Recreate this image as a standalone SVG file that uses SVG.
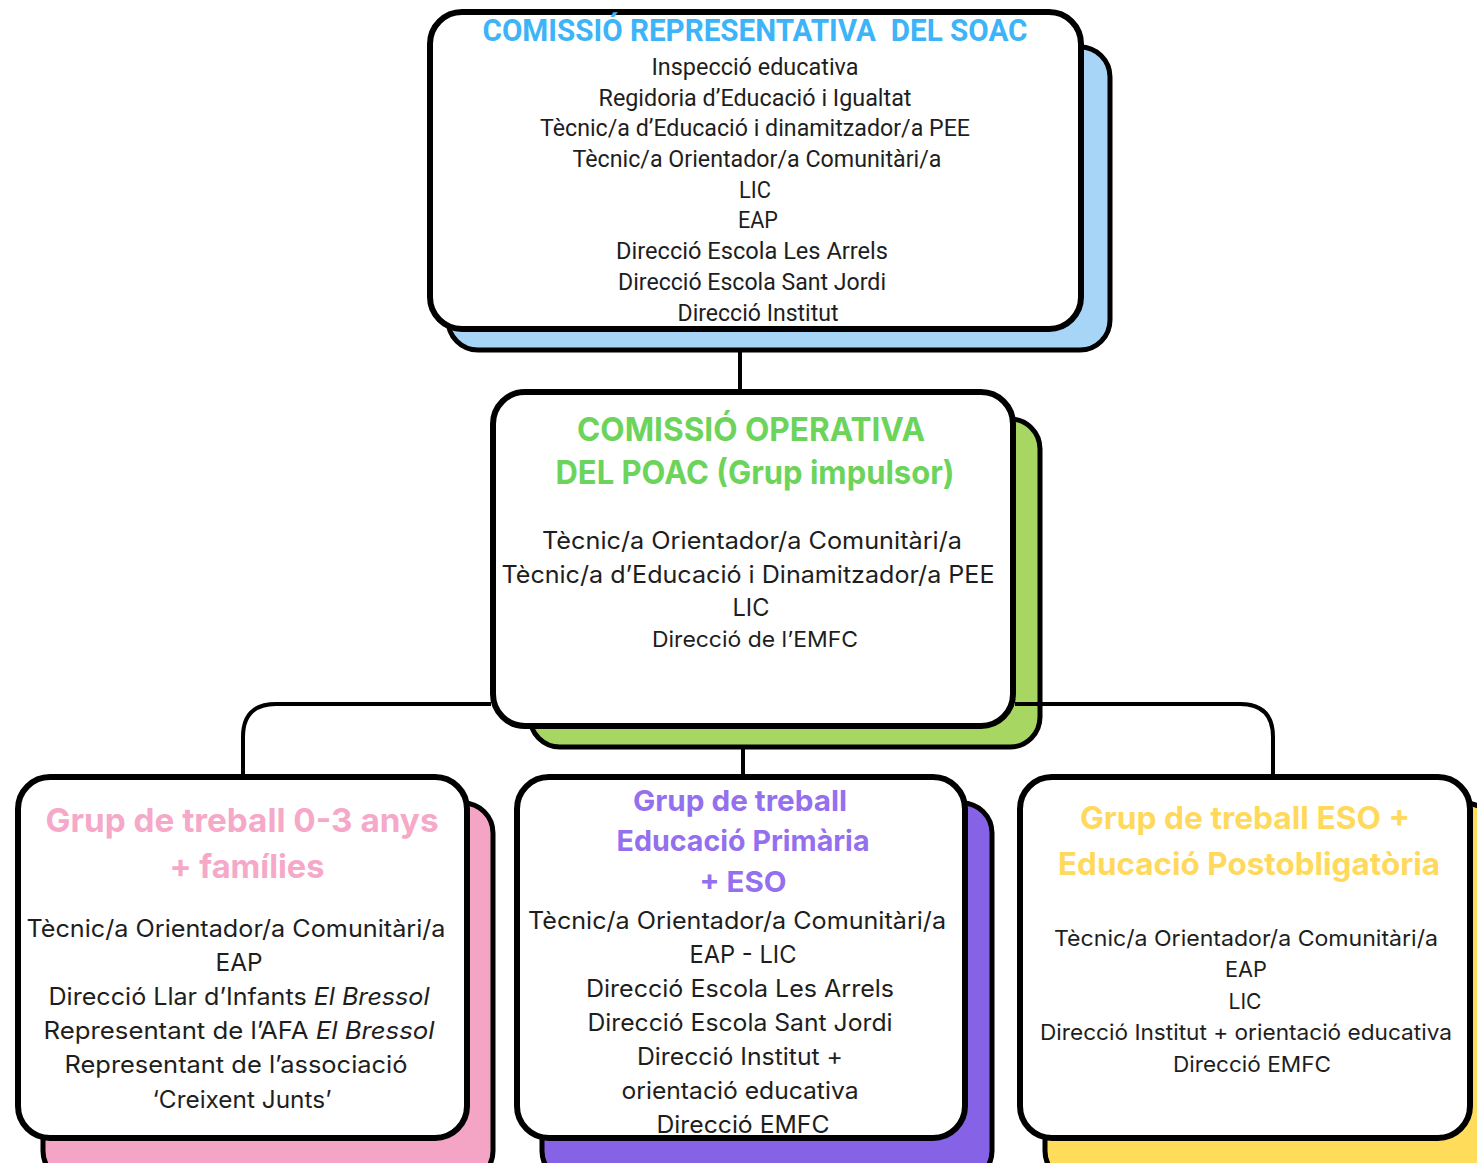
<svg xmlns="http://www.w3.org/2000/svg" width="1477" height="1163" viewBox="0 0 1477 1163">
<style>
.box{fill:#ffffff;stroke:#000;stroke-width:6}
.sh{stroke:#000;stroke-width:5}
.conn{fill:none;stroke:#000;stroke-width:4}
text{text-anchor:middle}
.t{font-family:Inter,"Noto Sans","Liberation Sans",sans-serif;fill:#1e1e1e}
.tc{font-family:Roboto,"Liberation Sans",sans-serif;fill:#1e1e1e;font-size:23px}
.h{font-family:Inter,"Noto Sans","Liberation Sans",sans-serif;font-weight:700}
.hc{font-family:Roboto,"Liberation Sans",sans-serif;font-weight:700}
</style>
<rect width="1477" height="1163" fill="#ffffff"/>

<g id="node-soac">
<rect class="sh" x="448" y="47" width="662" height="303" rx="30" fill="#a7d5f8"/>
<rect class="box" x="430" y="12" width="651" height="317" rx="32"/>
<text class="hc" x="755" y="41" font-size="31" fill="#3cb4f7" textLength="545" lengthAdjust="spacingAndGlyphs" xml:space="preserve">COMISSIÓ REPRESENTATIVA  DEL SOAC</text>
<text class="tc" x="755" y="75" textLength="207" lengthAdjust="spacingAndGlyphs">Inspecció educativa</text>
<text class="tc" x="755" y="106" textLength="313" lengthAdjust="spacingAndGlyphs">Regidoria d’Educació i Igualtat</text>
<text class="tc" x="755" y="136" textLength="430" lengthAdjust="spacingAndGlyphs">Tècnic/a d’Educació i dinamitzador/a PEE</text>
<text class="tc" x="757" y="167" textLength="369" lengthAdjust="spacingAndGlyphs">Tècnic/a Orientador/a Comunitàri/a</text>
<text class="tc" x="755" y="198" textLength="32" lengthAdjust="spacingAndGlyphs">LIC</text>
<text class="tc" x="758" y="228" textLength="40" lengthAdjust="spacingAndGlyphs">EAP</text>
<text class="tc" x="752" y="259" textLength="272" lengthAdjust="spacingAndGlyphs">Direcció Escola Les Arrels</text>
<text class="tc" x="752" y="290" textLength="268" lengthAdjust="spacingAndGlyphs">Direcció Escola Sant Jordi</text>
<text class="tc" x="758" y="321" textLength="161" lengthAdjust="spacingAndGlyphs">Direcció Institut</text>
</g>

<g id="node-poac">
<rect class="sh" x="530" y="419" width="510" height="328" rx="30" fill="#a8d662"/>
<rect class="box" x="493" y="392" width="520" height="334" rx="32"/>
<text class="h" x="751" y="441" font-size="33" fill="#6cd35b" textLength="348" lengthAdjust="spacingAndGlyphs">COMISSIÓ OPERATIVA</text>
<text class="h" x="755" y="484" font-size="33" fill="#6cd35b" textLength="399" lengthAdjust="spacingAndGlyphs">DEL POAC (Grup impulsor)</text>
<text class="t" x="752" y="549" font-size="24" textLength="420" lengthAdjust="spacingAndGlyphs">Tècnic/a Orientador/a Comunitàri/a</text>
<text class="t" x="748" y="583" font-size="24" textLength="493" lengthAdjust="spacingAndGlyphs">Tècnic/a d’Educació i Dinamitzador/a PEE</text>
<text class="t" x="751" y="616" font-size="24" textLength="37" lengthAdjust="spacingAndGlyphs">LIC</text>
<text class="t" x="755" y="647" font-size="22" textLength="206" lengthAdjust="spacingAndGlyphs">Direcció de l’EMFC</text>
</g>

<g id="node-03">
<rect class="sh" x="43" y="803" width="450" height="378" rx="30" fill="#f4a4c5"/>
<rect class="box" x="18" y="777" width="449" height="361" rx="32"/>
<text class="h" x="242" y="832" font-size="33" fill="#f6a8c8" textLength="393" lengthAdjust="spacingAndGlyphs">Grup de treball 0-3 anys</text>
<text class="h" x="247" y="878" font-size="33" fill="#f6a8c8" textLength="155" lengthAdjust="spacingAndGlyphs">+ famílies</text>
<text class="t" x="236" y="937" font-size="24" textLength="419" lengthAdjust="spacingAndGlyphs">Tècnic/a Orientador/a Comunitàri/a</text>
<text class="t" x="239" y="971" font-size="24" textLength="47" lengthAdjust="spacingAndGlyphs">EAP</text>
<text class="t" x="239" y="1005" font-size="24" textLength="381" lengthAdjust="spacingAndGlyphs">Direcció Llar d’Infants <tspan font-style="italic">El Bressol</tspan></text>
<text class="t" x="239" y="1039" font-size="24" textLength="391" lengthAdjust="spacingAndGlyphs">Representant de l’AFA <tspan font-style="italic">El Bressol</tspan></text>
<text class="t" x="236" y="1073" font-size="24" textLength="343" lengthAdjust="spacingAndGlyphs">Representant de l’associació</text>
<text class="t" x="242" y="1108" font-size="24" textLength="179" lengthAdjust="spacingAndGlyphs">‘Creixent Junts’</text>
</g>

<g id="node-primaria">
<rect class="sh" x="542" y="803" width="450" height="378" rx="30" fill="#8562e6"/>
<rect class="box" x="517" y="777" width="448" height="361" rx="32"/>
<text class="h" x="740" y="811" font-size="29" fill="#9470ef" textLength="214" lengthAdjust="spacingAndGlyphs">Grup de treball</text>
<text class="h" x="743" y="851" font-size="29" fill="#9470ef" textLength="253" lengthAdjust="spacingAndGlyphs">Educació Primària</text>
<text class="h" x="743" y="892" font-size="29" fill="#9470ef" textLength="87" lengthAdjust="spacingAndGlyphs">+ ESO</text>
<text class="t" x="737" y="929" font-size="24" textLength="418" lengthAdjust="spacingAndGlyphs">Tècnic/a Orientador/a Comunitàri/a</text>
<text class="t" x="743" y="963" font-size="24" textLength="107" lengthAdjust="spacingAndGlyphs">EAP - LIC</text>
<text class="t" x="740" y="997" font-size="24" textLength="308" lengthAdjust="spacingAndGlyphs">Direcció Escola Les Arrels</text>
<text class="t" x="740" y="1031" font-size="24" textLength="305" lengthAdjust="spacingAndGlyphs">Direcció Escola Sant Jordi</text>
<text class="t" x="740" y="1065" font-size="24" textLength="206" lengthAdjust="spacingAndGlyphs">Direcció Institut +</text>
<text class="t" x="740" y="1099" font-size="24" textLength="237" lengthAdjust="spacingAndGlyphs">orientació educativa</text>
<text class="t" x="743" y="1133" font-size="24" textLength="173" lengthAdjust="spacingAndGlyphs">Direcció EMFC</text>
</g>

<g id="node-postobligatoria">
<rect class="sh" x="1045" y="803" width="450" height="378" rx="30" fill="#ffdc5a"/>
<rect class="box" x="1020" y="777" width="450" height="361" rx="32"/>
<text class="h" x="1245" y="829" font-size="31" fill="#ffd95c" textLength="330" lengthAdjust="spacingAndGlyphs">Grup de treball ESO +</text>
<text class="h" x="1249" y="875" font-size="31" fill="#ffd95c" textLength="382" lengthAdjust="spacingAndGlyphs">Educació Postobligatòria</text>
<text class="t" x="1246" y="946" font-size="22" textLength="384" lengthAdjust="spacingAndGlyphs">Tècnic/a Orientador/a Comunitàri/a</text>
<text class="t" x="1246" y="977" font-size="22" textLength="42" lengthAdjust="spacingAndGlyphs">EAP</text>
<text class="t" x="1245" y="1009" font-size="22" textLength="33" lengthAdjust="spacingAndGlyphs">LIC</text>
<text class="t" x="1246" y="1040" font-size="22" textLength="412" lengthAdjust="spacingAndGlyphs">Direcció Institut + orientació educativa</text>
<text class="t" x="1252" y="1072" font-size="22" textLength="158" lengthAdjust="spacingAndGlyphs">Direcció EMFC</text>
</g>

<g id="connectors">
<path class="conn" d="M740,351 V390"/>
<path class="conn" d="M243,775 V737 Q243,704 276,704 H491"/>
<path class="conn" d="M1015,704 H1240 Q1273,704 1273,737 V775"/>
<path class="conn" d="M743,749 V775"/>
</g>
</svg>
